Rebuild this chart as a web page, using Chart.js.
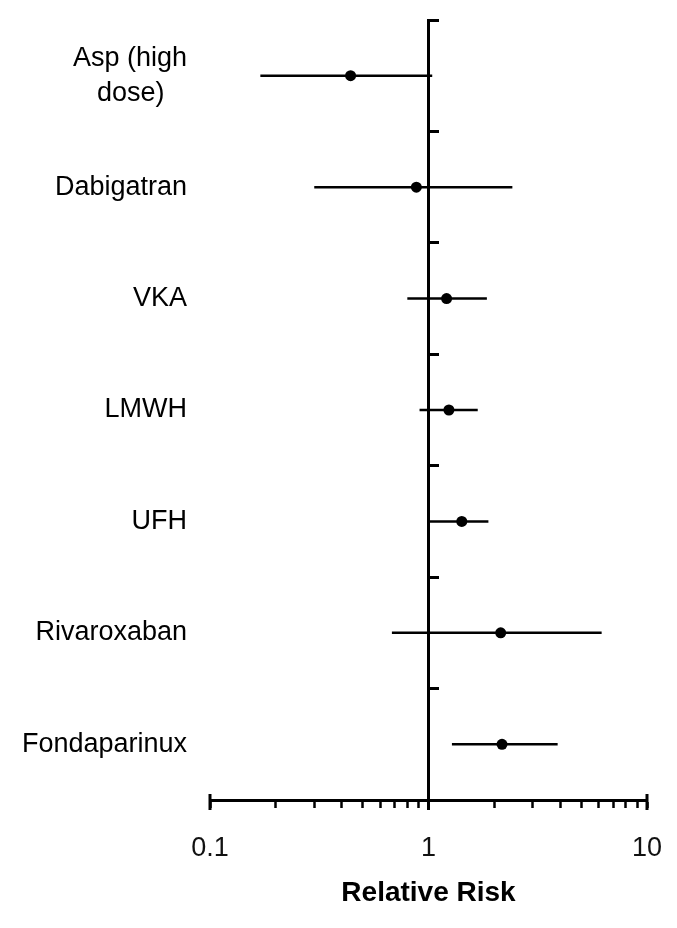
<!DOCTYPE html>
<html>
<head>
<meta charset="utf-8">
<script src="https://cdn.jsdelivr.net/npm/chart.js@4.4.1/dist/chart.umd.min.js"></script>
<style>
  html, body { margin: 0; padding: 0; background: #fff; }
</style>
</head>
<body>
<canvas id="forest" width="677" height="928"></canvas>
<script>
// データ
const categories = ['Asp (high dose)', 'Dabigatran', 'VKA', 'LMWH', 'UFH', 'Rivaroxaban', 'Fondaparinux'];
const categoryLines = { 'Asp (high dose)': ['Asp (high', 'dose)   '] }; // 2行ラベル
const relRisk = [0.44, 0.88, 1.21, 1.24, 1.42, 2.14, 2.17];
const ciLow   = [0.17, 0.30, 0.80, 0.91, 1.01, 0.68, 1.28];
const ciHigh  = [1.04, 2.42, 1.85, 1.68, 1.88, 6.2, 3.9];
const xTicks  = [0.1, 0.2, 0.3, 0.4, 0.5, 0.6, 0.7, 0.8, 0.9, 1, 2, 3, 4, 5, 6, 7, 8, 9, 10];
const xMajor  = [0.1, 1, 10];
const xTickLabels = ['0.1', '1', '10'];

const FONT = "'Liberation Sans', Arial, sans-serif";

// 信頼区間の線
var datasets = categories.map(function(cat, i) {
    return {
        data: [{x: ciLow[i], y: cat}, {x: ciHigh[i], y: cat}],
        showLine: true,
        borderColor: '#000',
        borderWidth: 2.5,
        pointRadius: 0,
        yAxisID: 'y'
    };
});
// 点推定
datasets.push({
    data: relRisk.map(function(v, i) { return {x: v, y: categories[i]}; }),
    pointRadius: 5.5,
    pointStyle: 'circle',
    backgroundColor: '#000',
    borderWidth: 0,
    yAxisID: 'y'
});

// 0.1, 1, 10 の長い目盛り
const majorTicks = {
    id: 'majorTicks',
    afterDraw: function(chart) {
        var ctx = chart.ctx;
        var xs = chart.scales.x;
        ctx.save();
        ctx.strokeStyle = '#000';
        ctx.lineWidth = 3;
        xMajor.forEach(function(v) {
            var px = xs.getPixelForValue(v);
            ctx.beginPath();
            ctx.moveTo(px, xs.top - 6);
            ctx.lineTo(px, xs.top + 10);
            ctx.stroke();
        });
        ctx.restore();
    }
};

var ctx = document.getElementById('forest').getContext('2d');
var myChart = new Chart(ctx, {
    type: 'scatter',
    data: { datasets: datasets },
    plugins: [majorTicks],
    options: {
        responsive: false,
        animation: false,
        layout: { padding: { top: 20, right: 30, left: 0, bottom: 0 } },
        plugins: {
            legend: { display: false },
            tooltip: { enabled: false }
        },
        scales: {
            x: {
                type: 'logarithmic',
                position: 'bottom',
                min: 0.1,
                max: 10,
                afterBuildTicks: function(scale) {
                    scale.ticks = xTicks.map(function(v) { return {value: v}; });
                },
                afterFit: function(scale) {
                    scale.height = 128;
                    scale.paddingLeft = 0;
                    scale.paddingRight = 0;
                },
                border: { color: '#000', width: 3 },
                grid: {
                    drawOnChartArea: false,
                    drawTicks: true,
                    tickLength: 8,
                    tickWidth: 2.5,
                    tickColor: '#000'
                },
                ticks: {
                    autoSkip: false,
                    maxRotation: 0,
                    padding: 24,
                    color: '#111',
                    font: { family: FONT, size: 27 },
                    callback: function(value) {
                        var k = xMajor.indexOf(value);
                        return k >= 0 ? xTickLabels[k] : '';
                    }
                },
                title: {
                    display: true,
                    text: 'Relative Risk',
                    color: '#000',
                    font: { family: FONT, size: 28, weight: 'bold' },
                    padding: { top: 0, bottom: 18 }
                }
            },
            y: {
                type: 'category',
                position: 'left',
                labels: categories,
                offset: true,
                afterFit: function(scale) {
                    scale.width = 210;
                    scale.paddingTop = 0;
                    scale.paddingBottom = 0;
                },
                border: { display: false },
                grid: { display: false },
                ticks: {
                    padding: 15,
                    color: '#000',
                    font: { family: FONT, size: 27, lineHeight: 1.3 },
                    callback: function(value) {
                        var c = categories[value];
                        return categoryLines[c] || c;
                    }
                }
            },
            yRef: {
                type: 'linear',
                position: { x: 1 },
                min: 0,
                max: 7,
                reverse: true,
                border: { color: '#000', width: 3 },
                grid: {
                    drawOnChartArea: false,
                    tickLength: -12,
                    tickWidth: 3,
                    tickColor: '#000'
                },
                ticks: { stepSize: 1, display: false }
            }
        }
    }
});
</script>
</body>
</html>
